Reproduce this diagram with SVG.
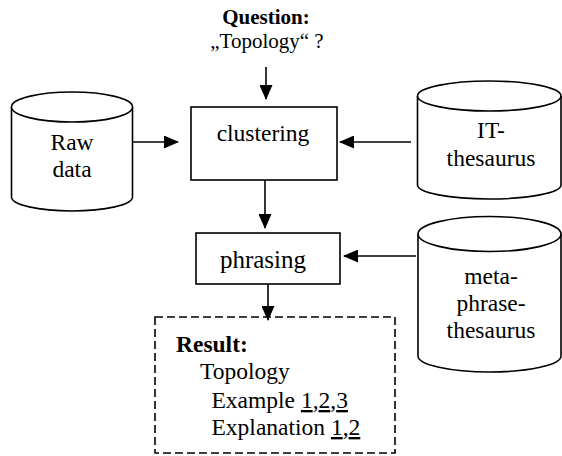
<svg xmlns="http://www.w3.org/2000/svg" width="562" height="456" viewBox="0 0 562 456">
<style>
text{font-family:"Liberation Serif","Times New Roman",serif;font-size:23.5px;fill:#000}
.b{font-weight:bold}
.c{text-anchor:middle}
.q{font-size:21px}
.shape{fill:#fff;stroke:#000;stroke-width:1.6}
.dash{fill:none;stroke:#000;stroke-width:1.6;stroke-dasharray:8 4}
.conn line{stroke:#000;stroke-width:1.6;marker-end:url(#ah)}
.u{text-decoration:underline}
</style>
<defs>
<marker id="ah" markerUnits="userSpaceOnUse" markerWidth="15" markerHeight="13" viewBox="0 0 15 13" refX="14" refY="6.5" orient="auto">
<path d="M0,0 L15,6.5 L0,13 z" fill="#000"/>
</marker>
</defs>
<rect width="562" height="456" fill="#fff"/>
<g id="question">
<text class="c b q" x="266" y="24">Question:</text>
<text class="c q" x="267" y="48">„Topology“ ?</text>
</g>
<g id="rawdata">
<path class="shape" d="M11.5,107 V197 A60.5,14 0 0 0 132.5,197 V107"/>
<ellipse class="shape" cx="72" cy="107" rx="60.5" ry="15"/>
<text class="c" x="72" y="150">Raw</text>
<text class="c" x="72" y="177">data</text>
</g>
<g id="clustering">
<rect class="shape" x="191" y="107" width="146" height="73"/>
<text class="c" x="263" y="141">clustering</text>
</g>
<g id="itthesaurus">
<path class="shape" d="M417.5,96 V185 A71.75,14 0 0 0 561,185 V96"/>
<ellipse class="shape" cx="489.25" cy="96" rx="71.75" ry="15"/>
<text class="c" x="491" y="138">IT-</text>
<text class="c" x="491" y="166">thesaurus</text>
</g>
<g id="phrasing">
<rect class="shape" x="196" y="233" width="144" height="51"/>
<text class="c" x="263" y="268" style="font-size:25px">phrasing</text>
</g>
<g id="metathesaurus">
<path class="shape" d="M418,234 V356 A71.5,16 0 0 0 561,356 V234"/>
<ellipse class="shape" cx="489.5" cy="234" rx="71.5" ry="17.5"/>
<text class="c" x="491" y="284">meta-</text>
<text class="c" x="491" y="311">phrase-</text>
<text class="c" x="491" y="338">thesaurus</text>
</g>
<g id="result">
<rect class="dash" x="155" y="317" width="240" height="136"/>
<text class="b" x="176" y="352">Result:</text>
<text x="200" y="379">Topology</text>
<text x="211.5" y="408">Example <tspan class="u">1</tspan>,<tspan class="u">2</tspan>,<tspan class="u">3</tspan></text>
<text x="211.5" y="435">Explanation <tspan class="u">1</tspan>,<tspan class="u">2</tspan></text>
</g>
<g id="connectors" class="conn">
<line x1="266" y1="67" x2="266" y2="99"/>
<line x1="132.5" y1="142" x2="178" y2="142"/>
<line x1="411" y1="142" x2="340" y2="142"/>
<line x1="265" y1="180" x2="265" y2="228"/>
<line x1="416" y1="256" x2="344" y2="256"/>
<line x1="268" y1="284" x2="268" y2="320"/>
</g>
</svg>
